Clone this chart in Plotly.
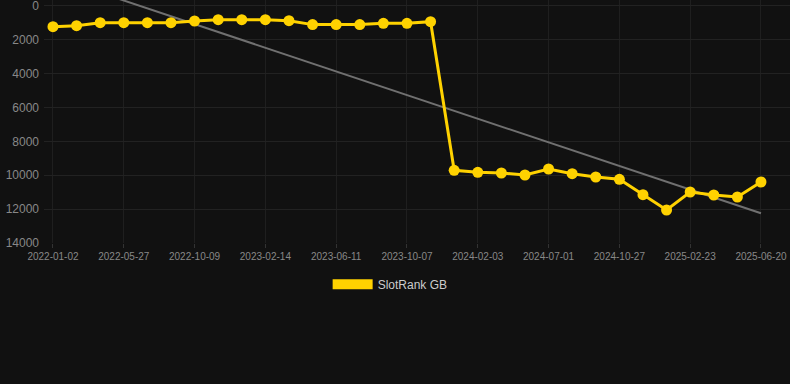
import numpy as np
import plotly.graph_objects as go

dates = [
    "2022-01-02", "2022-02-19", "2022-04-08", "2022-05-27", "2022-07-11", "2022-08-25",
    "2022-10-09", "2022-11-20", "2023-01-02", "2023-02-14", "2023-03-27", "2023-05-01",
    "2023-06-11", "2023-07-21", "2023-08-29", "2023-10-07", "2023-11-15", "2023-12-25",
    "2024-02-03", "2024-03-23", "2024-05-12", "2024-07-01", "2024-08-09", "2024-09-18",
    "2024-10-27", "2024-12-05", "2025-01-14", "2025-02-23", "2025-04-03", "2025-05-12",
    "2025-06-20",
]
rank = [
    1220, 1160, 985, 985, 985, 985, 886, 807, 807, 807, 866, 1100, 1100, 1100, 1024, 1024, 925,
    9707, 9826, 9865, 9983, 9629, 9904, 10101, 10239, 11145, 12051, 10987, 11164, 11283, 10396,
]
tick_labels = [
    "2022-01-02", "2022-05-27", "2022-10-09", "2023-02-14", "2023-06-11", "2023-10-07",
    "2024-02-03", "2024-07-01", "2024-10-27", "2025-02-23", "2025-06-20",
]
y_ticks = [0, 2000, 4000, 6000, 8000, 10000, 12000, 14000]
series_name = "SlotRank GB"

idx = np.arange(len(rank))
slope, intercept = np.polyfit(idx, rank, 1)
trend = slope * idx + intercept

yellow = "#FFD200"
fig = go.Figure()
fig.add_trace(go.Scatter(
    x=dates, y=trend.tolist(), mode="lines",
    line=dict(color="#707070", width=2), showlegend=False, hoverinfo="skip",
))
fig.add_trace(go.Scatter(
    x=dates, y=rank, mode="lines+markers",
    line=dict(color=yellow, width=3), marker=dict(color=yellow, size=11),
    showlegend=False, name=series_name,
))
fig.add_trace(go.Scatter(
    x=[None], y=[None], mode="lines", name=series_name,
    line=dict(color=yellow, width=12),
))

fig.update_layout(
    width=790, height=384,
    paper_bgcolor="#111111", plot_bgcolor="#111111",
    margin=dict(l=44, r=0, t=0, b=141),
    font=dict(family="Liberation Sans, Arial, sans-serif", color="#888888"),
    showlegend=True,
    legend=dict(
        orientation="h", x=0.464, xanchor="center", y=-0.11, yanchor="top",
        font=dict(size=12, color="#cccccc"), bgcolor="rgba(0,0,0,0)",
        itemwidth=40,
    ),
)
fig.update_xaxes(
    type="category", categoryorder="array", categoryarray=dates,
    tickmode="array", tickvals=tick_labels, ticktext=tick_labels,
    range=[-0.38, 31.23],
    showgrid=True, gridcolor="#1f1f1f", gridwidth=1,
    zeroline=False, showline=False,
    ticks="outside", ticklen=4, tickcolor="#333333",
    tickfont=dict(size=10, color="#888888"), ticklabeloverflow="allow",
)
fig.update_yaxes(
    range=[14000, -354], tickmode="array", tickvals=y_ticks,
    ticktext=[str(v) for v in y_ticks],
    showgrid=True, gridcolor="#222222", gridwidth=1, zeroline=False, showline=False,
    tickfont=dict(size=12, color="#888888"), ticks="", ticklabelstandoff=4,
    ticklabeloverflow="allow",
)
fig.write_html(
    "out.html",
    config={"displayModeBar": False},
    post_script="document.body.style.margin='0';document.body.style.background='#111111';",
)
